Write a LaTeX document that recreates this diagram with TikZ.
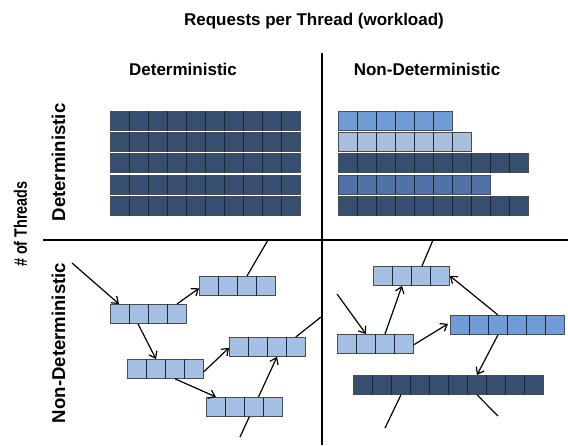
\documentclass[tikz,border=0pt]{standalone}
\usepackage{fontspec}
\setmainfont{Liberation Sans}
\usetikzlibrary{arrows.meta,calc}

\definecolor{dkblue}{HTML}{364F70}
\definecolor{midblue}{HTML}{709CD8}
\definecolor{ltblue}{HTML}{A4C0E4}
\definecolor{paleblue}{HTML}{AABFDF}
\definecolor{stblue}{HTML}{5072A6}

\tikzset{
  cellbar/.style={draw=black!70, line width=0.8pt, inner sep=0pt,
    minimum height=19pt, anchor=north west},
  divider/.style={draw=black!85, line width=0.7pt},
  flow/.style={draw=black, line width=1.2pt,
    -{Straight Barb[length=6pt,width=9pt]}},
  link/.style={draw=black, line width=1.2pt},
  axis/.style={draw=black, line width=1.8pt},
  head/.style={font=\bfseries\fontsize{17}{20}\selectfont, anchor=base, inner sep=0pt},
  side/.style={font=\bfseries\fontsize{18.6}{22}\selectfont, anchor=base,
    inner sep=0pt, rotate=90},
}

% a queue of equal cells: name, left, top, number of cells, fill colour
\newcommand\cellrow[5]{%
  \node[cellbar, fill=#5, minimum width=#4*19pt] (#1) at (#2,#3) {};
  \pgfmathtruncatemacro\lastcell{#4-1}%
  \foreach \k in {1,...,\lastcell}
    \draw[divider] ($(#1.north west)+(\k*19pt,0pt)$) -- ($(#1.south west)+(\k*19pt,0pt)$);
}

\begin{document}
\begin{tikzpicture}[x=1pt, y=-1pt]
\useasboundingbox (0,0) rectangle (568,445);

% headings
\node[head] (title) at (314,25) {Requests per Thread (workload)};
\node[head] (colD) at (183,75) {Deterministic};
\node[head] (colN) at (427,75) {Non-Deterministic};
\node[side] (threads) at (27,224)
  {\scalebox{0.8}[1]{\bfseries\fontsize{18}{22}\selectfont\# of Threads}};
\node[side] (rowD) at (65,162.5) {Deterministic};
\node[side] (rowN) at (65,343) {Non-Deterministic};

% quadrant axes
\coordinate (hl) at (43,240);
\coordinate (hr) at (568,240);
\coordinate (vt) at (322,53);
\coordinate (vb) at (322,445);
\draw[axis] (hl) -- (hr);
\draw[axis] (vt) -- (vb);

% deterministic threads, deterministic workload
\cellrow{dd1}{110}{111}{10}{dkblue}
\cellrow{dd2}{110}{132}{10}{dkblue}
\cellrow{dd3}{110}{153}{10}{dkblue}
\cellrow{dd4}{110}{174.5}{10}{dkblue}
\cellrow{dd5}{110}{196}{10}{dkblue}

% deterministic threads, non-deterministic workload
\cellrow{dn1}{338}{111}{6}{midblue}
\cellrow{dn2}{338}{132}{7}{paleblue}
\cellrow{dn3}{338}{153}{10}{dkblue}
\cellrow{dn4}{338}{174.5}{8}{stblue}
\cellrow{dn5}{338}{196}{10}{dkblue}

% non-deterministic threads, deterministic workload
\cellrow{A}{110}{304}{4}{ltblue}
\cellrow{B}{199}{276}{4}{ltblue}
\cellrow{C}{229}{337}{4}{ltblue}
\cellrow{D}{127}{359}{4}{ltblue}
\coordinate (s2) at (240,437);
\draw[flow] (s2) -- ($(C.south west)+(48pt,0pt)$);
\cellrow{E}{206}{397}{4}{ltblue}

\coordinate (s1) at (72,263);
\coordinate (t1) at (268,240);
\coordinate (t2) at (321,317);
\draw[flow] (s1) -- ($(A.north west)+(9pt,0pt)$);
\draw[flow] ($(A.north west)+(67pt,0pt)$) -- ($(B.south west)+(0pt,7.5pt)$);
\draw[link] ($(B.north west)+(48pt,0pt)$) -- (t1);
\draw[flow] ($(A.south west)+(28pt,0pt)$) -- ($(D.north west)+(29pt,0pt)$);
\draw[flow] ($(D.south east)+(0pt,7pt)$) -- ($(C.south west)+(0pt,9pt)$);
\draw[flow] ($(D.south west)+(48pt,0pt)$) -- ($(E.north west)+(10pt,0pt)$);
\draw[link] ($(C.north east)+(-10pt,0pt)$) -- (t2);

% non-deterministic threads, non-deterministic workload
\cellrow{F}{373}{266}{4}{ltblue}
\cellrow{G}{337}{334}{4}{ltblue}
\cellrow{H}{450}{315}{6}{midblue}
\cellrow{I}{353}{375}{10}{dkblue}

\coordinate (t3) at (433,240);
\coordinate (s3) at (337,294);
\coordinate (s4) at (385,428);
\coordinate (s5) at (498,416);
\draw[link] ($(F.north west)+(49pt,0pt)$) -- (t3);
\draw[flow] (s3) -- ($(G.north west)+(29pt,0pt)$);
\draw[flow] ($(G.north west)+(48pt,0pt)$) -- ($(F.south west)+(29pt,0pt)$);
\draw[flow] ($(G.south east)+(0pt,9pt)$) -- ($(H.south west)+(-2pt,11pt)$);
\draw[flow] ($(H.north west)+(48pt,0pt)$) -- ($(F.south east)+(0pt,10pt)$);
\draw[flow] ($(H.south west)+(48pt,0pt)$) -- ($(I.north west)+(124pt,0pt)$);
\draw[link] ($(I.south west)+(48pt,0pt)$) -- (s4);
\draw[link] ($(I.south west)+(124pt,0pt)$) -- (s5);
\end{tikzpicture}
\end{document}
